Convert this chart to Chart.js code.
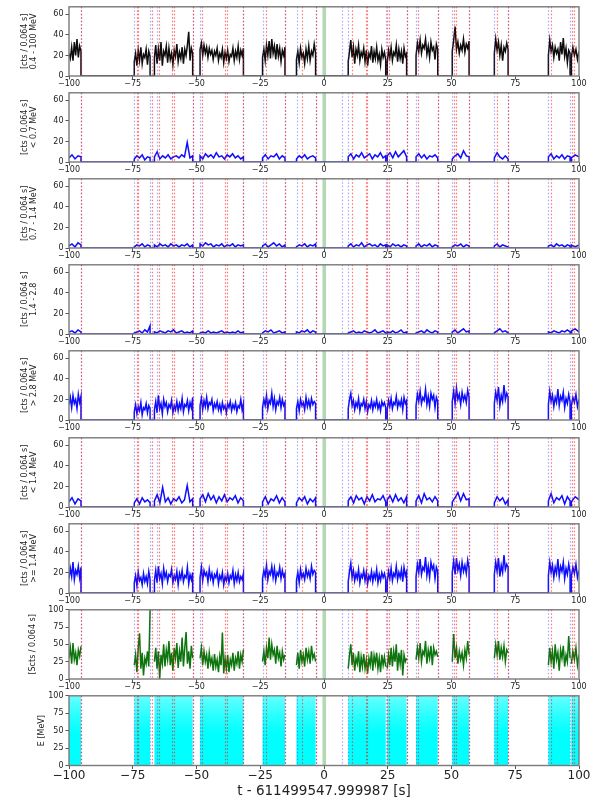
<!DOCTYPE html>
<html>
<head>
<meta charset="utf-8">
<script src="https://cdn.jsdelivr.net/npm/chart.js@4"></script>
<style>
  html, body { margin: 0; padding: 0; background: #fff; }
  #wrap { position: relative; width: 595px; height: 800px; }
  canvas { position: absolute; left: 0; }
</style>
</head>
<body>
<div id="wrap"></div>
<script>
// time windows that have data (s from trigger)
const segStart = [-100, -74.4, -66.5, -48.6, -24.1, -10.8, 9.5, 24.8, 36.1, 50.3, 66.8, 88.0, 97.0];
const segEnd   = [-95.3, -68.2, -51.5, -31.6, -15.3, -3.3, 24.2, 32.4, 44.6, 56.9, 72.2, 96.5, 100];

// marker lines
const blueLines = [-95.3, -74.4, -68.2, -65.6, -51.5, -48.6, -31.6, -24.1, -15.3, -10.6, -3.3, 6.9, 9.5,
  24.2, 32.4, 36.1, 44.6, 50.3, 56.9, 66.8, 72.2, 88.0, 96.5];
const redLines = [-95.3, -73.5, -72.8, -67.6, -64.7, -59.6, -58.8, -51.5, -47.7, -38.7, -38.2, -31.6,
  -22.7, -15.3, -8.7, -3.3, 10.9, 16.3, 16.7, 24.8, 25.4, 32.4, 37.0, 44.6, 51.0, 51.8, 56.9, 67.7,
  72.2, 88.9, 97.1, 98.0];
const greenBand = [-0.6, 0.8];

const xTicks = [-100, -75, -50, -25, 0, 25, 50, 75, 100];
const cntTicks = [0, 20, 40, 60];
const pctTicks = [0, 25, 50, 75, 100];
const xTitle = 't - 611499547.999987 [s]';

// 0.4 - 100 MeV
const cntAll = [
  [22, 17, 28, 15, 33, 20, 36, 18, 29, 24],
  [14, 22, 10, 25, 15, 28, 12, 21, 18, 26, 11, 24, 19],
  [18, 30, 12, 26, 15, 33, 10, 24, 20, 29, 13, 27, 16, 22, 11, 25, 19, 31, 14, 23, 17, 28, 12, 26, 20, 30, 43, 15, 27, 22],
  [26, 32, 20, 30, 22, 28, 18, 27, 21, 25, 16, 24, 20, 27, 15, 22, 18, 26, 13, 23, 17, 25, 14, 21, 19, 27, 15, 24, 18, 29, 16, 25, 20, 27],
  [18, 26, 15, 30, 20, 34, 17, 36, 22, 29, 16, 31, 19, 27, 14, 25, 20, 28],
  [16, 24, 13, 27, 18, 22, 12, 26, 17, 29, 15, 24, 20, 31, 22],
  [14, 24, 35, 18, 28, 12, 26, 20, 30, 15, 23, 19, 27, 14, 25, 10, 22, 18, 29, 13, 24, 17, 28, 15, 21, 11, 26, 18, 23, 16],
  [13, 25, 18, 28, 15, 23, 20, 30, 14, 26, 17, 24, 12, 27, 19, 22],
  [20, 32, 24, 35, 22, 30, 27, 36, 21, 29, 18, 33, 25, 28, 16, 31, 26],
  [24, 35, 48, 26, 33, 22, 30, 25, 36, 23, 31, 27, 34],
  [22, 36, 25, 33, 20, 30, 15, 28, 24, 32, 26],
  [20, 35, 24, 30, 18, 28, 22, 26, 15, 33, 21, 37, 19, 27, 13, 25, 22],
  [18, 28, 20, 26, 16, 24]
];
// < 0.7 MeV
const cntLow = [
  [4, 7, 3, 6, 5],
  [3, 6, 4, 7, 2, 5, 4],
  [5, 10, 3, 6, 4, 7, 3, 5, 6, 4, 7, 5, 19, 4, 6],
  [6, 3, 8, 5, 7, 4, 9, 5, 6, 3, 7, 5, 8, 4, 6, 3, 5],
  [4, 7, 3, 6, 5, 8, 3, 6, 4],
  [3, 6, 4, 7, 3, 5, 6, 4],
  [5, 8, 3, 7, 5, 9, 4, 6, 8, 3, 7, 5, 9, 4, 6],
  [6, 9, 4, 10, 5, 8, 11, 5],
  [5, 8, 4, 7, 3, 6, 5, 7, 4],
  [3, 6, 8, 4, 11, 6, 5],
  [4, 9, 5, 3, 6, 3],
  [5, 8, 3, 6, 4, 7, 3, 6, 5],
  [4, 7, 5]
];
// 0.7 - 1.4 MeV
const cntMid = [
  [2, 4, 1, 5, 3],
  [1, 3, 2, 4, 1, 3, 2],
  [3, 1, 4, 2, 3, 1, 4, 2, 3, 1, 3, 2, 4, 1, 3],
  [4, 2, 5, 3, 4, 1, 3, 2, 4, 1, 3, 2, 4, 1, 3, 2, 3],
  [2, 4, 1, 3, 5, 2, 4, 1, 3],
  [1, 3, 2, 4, 1, 3, 2, 4],
  [2, 4, 1, 3, 2, 5, 1, 3, 4, 2, 3, 1, 4, 2, 3],
  [3, 1, 4, 2, 3, 1, 3, 2],
  [2, 4, 1, 3, 2, 4, 1, 3, 2],
  [1, 3, 2, 4, 1, 3, 2],
  [2, 4, 1, 3, 2, 1],
  [2, 3, 1, 4, 2, 3, 1, 3, 2],
  [3, 1, 3]
];
// 1.4 - 2.8 MeV
const cntHigh = [
  [2, 3, 1, 4, 2],
  [1, 2, 3, 1, 4, 2, 8],
  [2, 1, 3, 2, 1, 3, 2, 4, 1, 2, 3, 1, 2, 1, 3],
  [1, 2, 1, 3, 1, 2, 1, 2, 3, 1, 2, 1, 2, 1, 3, 1, 2],
  [1, 3, 2, 4, 1, 2, 3, 1, 2],
  [2, 1, 3, 2, 4, 1, 3, 2],
  [1, 2, 3, 1, 2, 1, 3, 2, 1, 2, 4, 1, 2, 3, 1],
  [2, 1, 3, 1, 2, 4, 1, 2],
  [1, 2, 3, 1, 4, 2, 1, 3, 2],
  [2, 4, 1, 3, 5, 2, 3],
  [1, 3, 5, 2, 3, 1],
  [2, 1, 3, 2, 1, 3, 2, 4, 2],
  [3, 5, 2]
];
// > 2.8 MeV
const cntTop = [
  [15, 22, 12, 24, 16, 20, 11, 25, 17, 23],
  [8, 15, 6, 13, 9, 17, 5, 12, 10, 16, 7, 14, 11],
  [10, 18, 7, 24, 11, 16, 6, 20, 13, 17, 8, 15, 12, 19, 7, 14, 10, 18, 9, 16, 11, 21, 8, 15, 13, 19, 9, 17, 12, 22],
  [14, 21, 10, 19, 13, 22, 11, 17, 15, 20, 9, 16, 12, 18, 10, 15, 8, 17, 11, 14, 7, 16, 12, 18, 9, 15, 11, 17, 8, 14, 12, 20, 10, 16],
  [12, 20, 14, 24, 11, 19, 16, 26, 13, 21, 10, 18, 15, 22, 12, 20, 14, 17],
  [11, 18, 9, 20, 14, 17, 10, 22, 13, 19, 12, 21, 15, 18, 16],
  [11, 20, 26, 14, 19, 10, 17, 13, 21, 9, 16, 14, 20, 11, 18, 8, 15, 12, 19, 10, 17, 13, 20, 11, 16, 9, 18, 14, 17, 12],
  [10, 19, 13, 21, 11, 17, 15, 23, 12, 18, 14, 20, 10, 22, 16, 19],
  [14, 25, 18, 28, 16, 22, 19, 30, 15, 23, 13, 26, 20, 24, 12, 22, 18],
  [18, 28, 16, 31, 20, 25, 15, 27, 19, 24, 17, 29, 22],
  [16, 27, 19, 32, 14, 24, 18, 34, 20, 26, 22],
  [15, 28, 18, 24, 13, 22, 17, 30, 14, 23, 19, 27, 12, 21, 16, 25, 18],
  [14, 22, 17, 25, 13, 20]
];
// < 1.4 MeV
const cntBelow = [
  [5, 9, 3, 8, 6],
  [4, 8, 3, 9, 5, 7, 4],
  [6, 12, 4, 19, 5, 9, 3, 8, 6, 10, 4, 7, 21, 5, 8],
  [8, 12, 5, 13, 7, 11, 4, 10, 6, 12, 5, 9, 7, 11, 4, 9, 6],
  [5, 10, 3, 8, 6, 11, 4, 9, 5],
  [4, 9, 6, 10, 3, 8, 5, 9],
  [6, 10, 4, 11, 7, 9, 3, 10, 6, 12, 5, 8, 7, 11, 5],
  [7, 11, 5, 12, 6, 9, 4, 10],
  [6, 11, 4, 13, 7, 9, 5, 10, 6],
  [5, 9, 14, 6, 13, 7, 8],
  [4, 10, 6, 9, 3, 7],
  [6, 13, 4, 9, 7, 11, 3, 10, 6],
  [5, 10, 7]
];
// >= 1.4 MeV
const cntAbove = [
  [14, 24, 16, 30, 13, 22, 18, 26, 15, 25],
  [10, 17, 7, 20, 12, 15, 8, 19, 11, 16, 9, 21, 13],
  [12, 22, 10, 26, 14, 19, 9, 24, 15, 20, 11, 18, 16, 23, 10, 17, 13, 21, 8, 19, 14, 22, 11, 17, 15, 25, 9, 18, 13, 20],
  [15, 25, 12, 22, 17, 20, 11, 23, 14, 19, 10, 18, 15, 21, 9, 17, 13, 20, 8, 16, 12, 19, 10, 17, 14, 22, 9, 18, 12, 20, 11, 16, 13, 19],
  [14, 22, 16, 27, 13, 21, 18, 26, 15, 24, 12, 20, 17, 25, 14, 22, 16, 19],
  [12, 20, 10, 23, 15, 19, 13, 24, 16, 21, 14, 26, 18, 22, 20],
  [11, 21, 29, 15, 22, 12, 19, 14, 23, 10, 18, 15, 22, 12, 20, 9, 17, 13, 21, 11, 19, 14, 23, 10, 18, 12, 20, 15, 19, 13],
  [11, 21, 14, 24, 12, 19, 16, 26, 13, 20, 15, 23, 11, 25, 17, 21],
  [16, 28, 20, 33, 18, 25, 22, 35, 17, 26, 15, 30, 23, 27, 14, 25, 21],
  [20, 31, 18, 34, 22, 28, 17, 30, 21, 27, 19, 32, 24],
  [18, 30, 21, 34, 16, 27, 20, 37, 23, 28, 25],
  [17, 30, 20, 27, 15, 25, 19, 33, 16, 26, 21, 30, 14, 24, 18, 28, 20],
  [16, 25, 19, 28, 15, 22]
];
// Scts
const scts = [
  [30, 45, 22, 52, 28, 38, 20, 42, 33, 47],
  [20, 35, 10, 45, 66, 15, 38, 5, 30, 22, 40, 18, 100],
  [25, 45, 15, 40, 0, 35, 22, 50, 18, 42, 28, 55, 20, 38, 12, 45, 30, 52, 16, 40, 25, 60, 18, 45, 68, 22, 40, 15, 48, 30],
  [30, 45, 20, 40, 25, 35, 15, 38, 22, 30, 12, 36, 18, 28, 10, 33, 20, 67, 8, 30, 15, 35, 10, 28, 20, 38, 12, 30, 22, 40, 15, 35, 25, 42],
  [25, 40, 20, 45, 30, 60, 28, 50, 35, 42, 22, 48, 30, 38, 18, 40, 28, 35],
  [20, 38, 15, 42, 25, 35, 18, 45, 28, 40, 22, 48, 30, 36, 25],
  [15, 35, 50, 20, 38, 12, 30, 22, 40, 10, 32, 18, 36, 15, 28, 8, 30, 20, 40, 12, 34, 22, 38, 15, 30, 10, 35, 20, 32, 18],
  [15, 35, 20, 45, 18, 40, 25, 50, 12, 38, 22, 42, 5, 35, 25, 30],
  [28, 45, 30, 52, 25, 40, 35, 55, 22, 42, 30, 48, 20, 45, 35, 40, 32],
  [25, 65, 30, 45, 22, 40, 28, 38, 20, 42, 30, 55, 35],
  [30, 50, 35, 55, 28, 45, 32, 48, 25, 42, 38],
  [20, 45, 25, 40, 15, 50, 28, 38, 12, 42, 30, 48, 18, 35, 25, 62, 30],
  [22, 40, 28, 45, 20, 35]
];

Chart.defaults.font.family = '"DejaVu Sans", sans-serif';
Chart.defaults.color = '#222';

const fmt = v => String(v).replace('-', '\u2212');

function toPoints(segs, zeroGaps) {
  const pts = [];
  segs.forEach((vals, k) => {
    const s = segStart[k], e = segEnd[k];
    const dt = (e - s) / (vals.length - 1);
    if (zeroGaps && s > -100) pts.push({ x: s, y: 0 });
    vals.forEach((v, i) => pts.push({ x: s + i * dt, y: v }));
    if (zeroGaps && e < 100) pts.push({ x: e, y: 0 });
    if (!zeroGaps) pts.push({ x: e + 0.05, y: null });
  });
  return pts;
}

function windowPoints() {
  const pts = [];
  segStart.forEach((s, k) => {
    pts.push({ x: s, y: 0 }, { x: s, y: 100 }, { x: segEnd[k], y: 100 }, { x: segEnd[k], y: 0 });
  });
  return pts;
}

const lbl = '[cts / 0.064 s]';
const blue = 'rgba(0,0,255,0.95)';
const panels = [
  { data: cntAll, color: 'rgba(0,0,0,0.95)', title: [lbl, '0.4 - 100 MeV'], ticks: cntTicks, max: 67.3, pad: 20.5 },
  { data: cntLow, color: blue, title: [lbl, '< 0.7 MeV'], ticks: cntTicks, max: 67.3, pad: 20.5 },
  { data: cntMid, color: blue, title: [lbl, '0.7 - 1.4 MeV'], ticks: cntTicks, max: 67.3, pad: 20.5 },
  { data: cntHigh, color: blue, title: [lbl, '1.4 - 2.8'], ticks: cntTicks, max: 67.3, pad: 20.5 },
  { data: cntTop, color: blue, title: [lbl, '> 2.8 MeV'], ticks: cntTicks, max: 67.3, pad: 20.5 },
  { data: cntBelow, color: blue, title: [lbl, '< 1.4 MeV'], ticks: cntTicks, max: 67.3, pad: 20.5 },
  { data: cntAbove, color: blue, title: [lbl, '>= 1.4 MeV'], ticks: cntTicks, max: 67.3, pad: 20.5 },
  { data: scts, color: 'rgba(0,110,0,0.95)', title: '[Scts / 0.064 s]', ticks: pctTicks, max: 100, pad: 28.5, gaps: true },
  { data: null, color: '#00ffff', title: 'E [MeV]', ticks: pctTicks, max: 100, pad: 37 }
];

const overlay = {
  id: 'overlay',
  beforeDatasetsDraw(chart) {
    const { ctx, chartArea: a, scales: { x } } = chart;
    ctx.save();
    ctx.fillStyle = 'rgba(0,128,0,0.3)';
    const x0 = x.getPixelForValue(greenBand[0]), x1 = x.getPixelForValue(greenBand[1]);
    ctx.fillRect(x0, a.top, x1 - x0, a.bottom - a.top);
    ctx.restore();
  },
  afterDatasetsDraw(chart) {
    const { ctx, chartArea: a, scales: { x } } = chart;
    ctx.save();
    ctx.lineWidth = 1.2;
    ctx.setLineDash([1.5, 2]);
    const draw = (list, col) => {
      ctx.strokeStyle = col;
      list.forEach(v => {
        const px = Math.round(x.getPixelForValue(v)) + 0.5;
        ctx.beginPath();
        ctx.moveTo(px, a.top);
        ctx.lineTo(px, a.bottom);
        ctx.stroke();
      });
    };
    draw(blueLines, 'rgba(60,60,255,0.45)');
    draw(redLines, 'rgba(255,0,0,0.55)');
    ctx.restore();
  },
  afterDraw(chart) {
    const { ctx, chartArea: a } = chart;
    ctx.save();
    ctx.strokeStyle = '#7a7a7a';
    ctx.lineWidth = 1.4;
    ctx.strokeRect(a.left, a.top, a.right - a.left, a.bottom - a.top);
    ctx.restore();
  }
};

const wrap = document.getElementById('wrap');

panels.forEach((p, i) => {
  const last = i === panels.length - 1;
  const top = Math.round(86.1 * i);
  const h = last ? 800 - top : 86;
  const cv = document.createElement('canvas');
  cv.width = 595;
  cv.height = h;
  cv.style.top = top + 'px';
  wrap.appendChild(cv);

  let dataset;
  if (last) {
    dataset = {
      data: windowPoints(),
      borderWidth: 0,
      pointRadius: 0,
      fill: 'origin',
      backgroundColor: ctx => {
        const { chart } = ctx;
        const a = chart.chartArea;
        if (!a) return '#00ffff';
        const g = chart.ctx.createLinearGradient(0, a.bottom, 0, a.top);
        g.addColorStop(0, '#00ffff');
        g.addColorStop(0.45, '#00ffff');
        g.addColorStop(0.7, 'rgba(0,255,255,0.85)');
        g.addColorStop(1, 'rgba(0,255,255,0.6)');
        return g;
      }
    };
  } else {
    dataset = {
      data: toPoints(p.data, !p.gaps),
      borderColor: p.color,
      borderWidth: 1.5,
      pointRadius: 0,
      tension: 0,
      fill: false,
      spanGaps: false
    };
  }

  new Chart(cv, {
    type: 'line',
    data: { datasets: [dataset] },
    options: {
      responsive: false,
      devicePixelRatio: 1,
      animation: false,
      layout: { padding: { top: 5, right: 16, bottom: 0, left: 0 } },
      plugins: { legend: { display: false }, tooltip: { enabled: false } },
      scales: {
        x: {
          type: 'linear',
          min: -100,
          max: 100,
          afterBuildTicks: s => { s.ticks = xTicks.map(v => ({ value: v })); },
          afterFit: s => { s.height = last ? 34.5 : 10; },
          grid: { drawOnChartArea: false, tickLength: 3.5, color: '#555' },
          border: { display: false },
          ticks: {
            font: { size: last ? 12 : 8 },
            padding: 0,
            maxRotation: 0,
            autoSkip: false,
            callback: v => fmt(v)
          },
          title: {
            display: last,
            text: xTitle,
            font: { size: 13.5 },
            padding: { top: 0, bottom: 0 }
          }
        },
        y: {
          min: 0,
          max: p.max,
          afterBuildTicks: s => { s.ticks = p.ticks.map(v => ({ value: v })); },
          afterFit: s => { s.width = 69; },
          grid: { drawOnChartArea: false, tickLength: 3.5, color: '#555' },
          border: { display: false },
          ticks: { font: { size: 8 }, padding: 2, callback: v => fmt(v) },
          title: {
            display: true,
            text: p.title,
            font: { size: 8, lineHeight: 1.125 },
            padding: { top: p.pad, bottom: 0 }
          }
        }
      }
    },
    plugins: [overlay]
  });
});
</script>
</body>
</html>
